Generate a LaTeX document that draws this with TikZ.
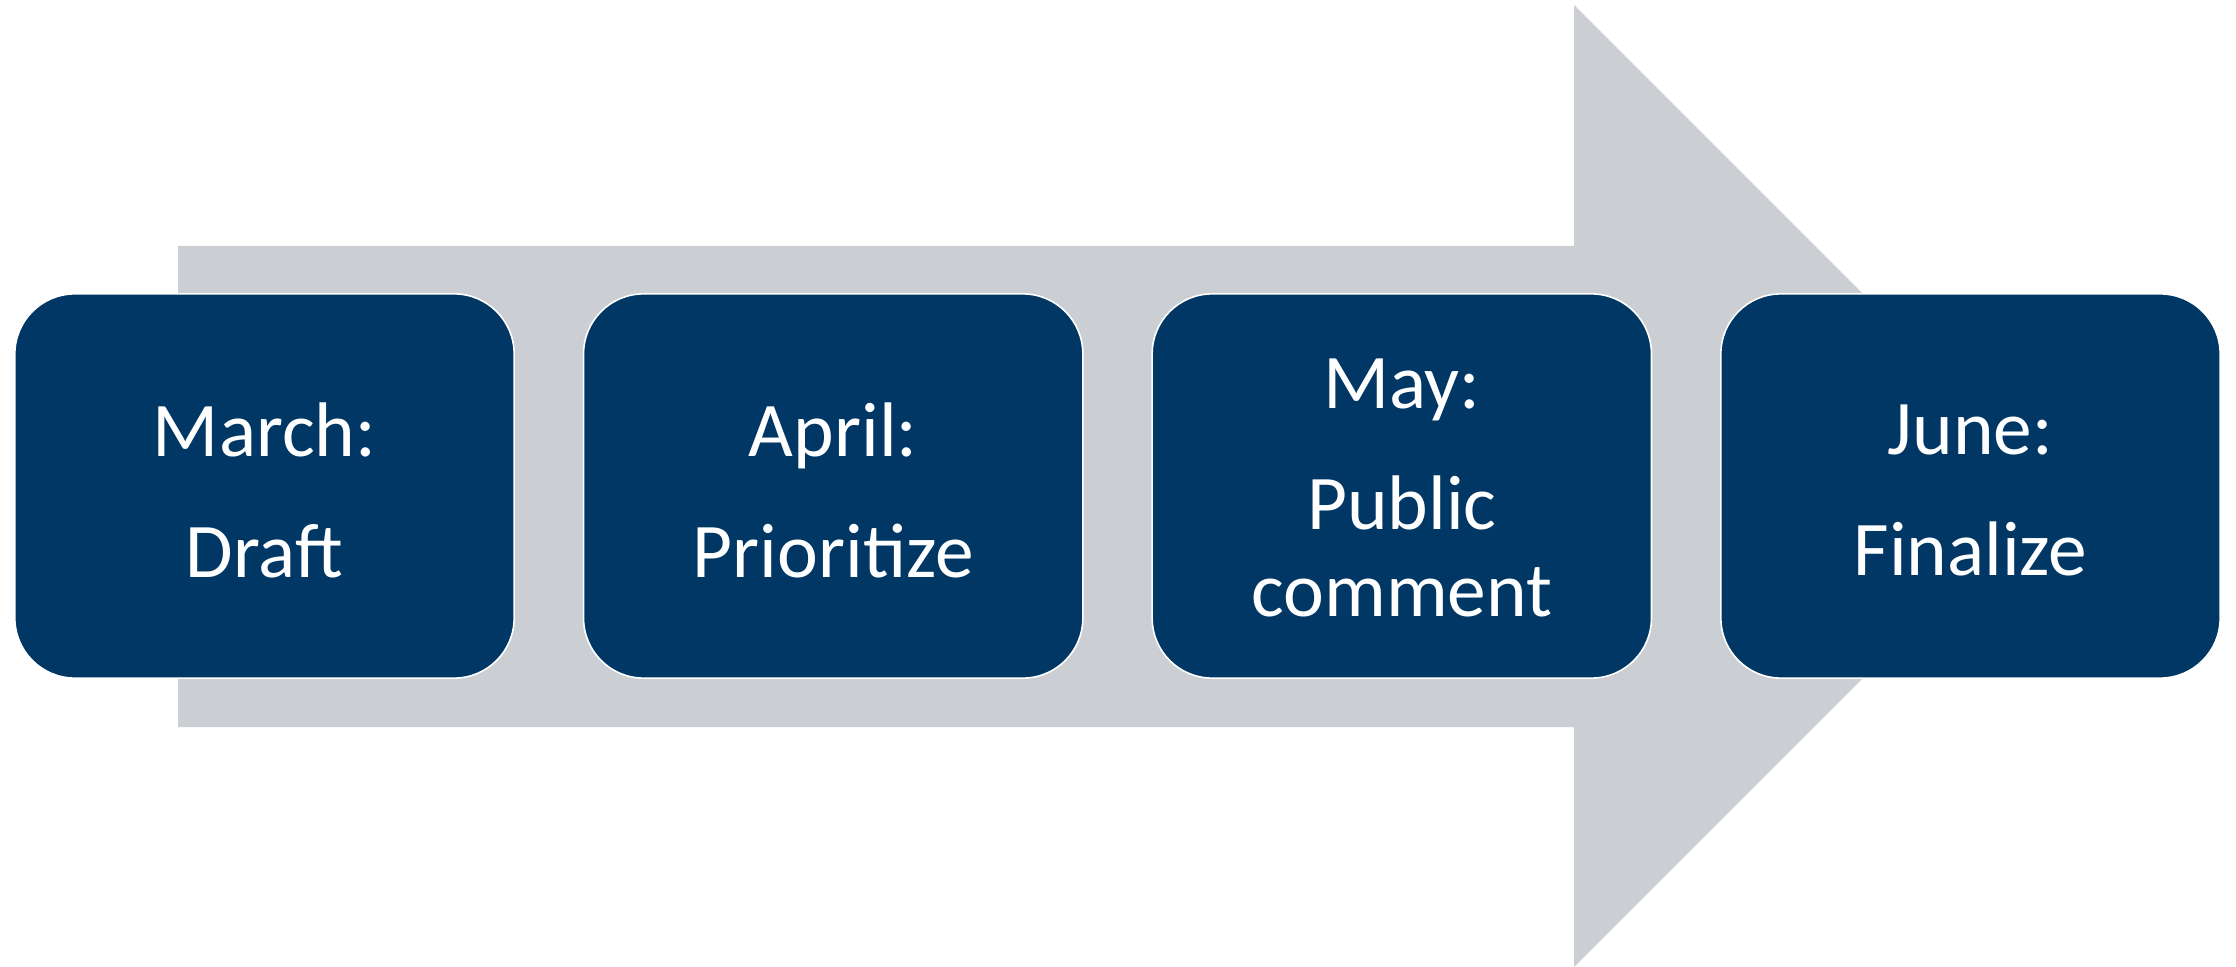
\documentclass[tikz,border=0pt]{standalone}
\usepackage{fontspec}
\setmainfont{Carlito}
\definecolor{stagefill}{RGB}{0,55,100}
\definecolor{arrowgray}{RGB}{203,206,211}
\begin{document}
\begin{tikzpicture}[x=0.01cm,y=-0.01cm,
  stagebox/.style={draw=white,line width=0.45pt,fill=stagefill,rounded corners=0.6cm,
    minimum width=4.99cm,minimum height=3.84cm,inner sep=0pt},
  stagetext/.style={text=white,align=center,inner sep=0pt,
    font=\fontsize{22pt}{0.87cm}\selectfont}]
  \useasboundingbox (0,0) rectangle (2236,967);
  % wide block arrow behind the stages
  \fill[arrowgray] (178,246) -- (1574,246) -- (1574,5) -- (2055,486)
    -- (1574,967) -- (1574,727) -- (178,727) -- cycle;
  % stages
  \node[stagebox] (s1) at (264.5,486) {};
  \node[stagebox] (s2) at (833.2,486) {};
  \node[stagebox] (s3) at (1401.8,486) {};
  \node[stagebox] (s4) at (1970.5,486) {};
  \node[stagetext] (t1) at ([yshift=-0.04cm]s1.center) {March:\\[0.34cm]Draft};
  \node[stagetext] (t2) at ([yshift=-0.04cm]s2.center) {April:\\[0.34cm]Prioritize};
  \node[stagetext] (t3) at ([yshift=-0.02cm]s3.center) {May:\\[0.34cm]Public\\comment};
  \node[stagetext] (t4) at ([yshift=-0.04cm]s4.center) {June:\\[0.34cm]Finalize};
\end{tikzpicture}
\end{document}
